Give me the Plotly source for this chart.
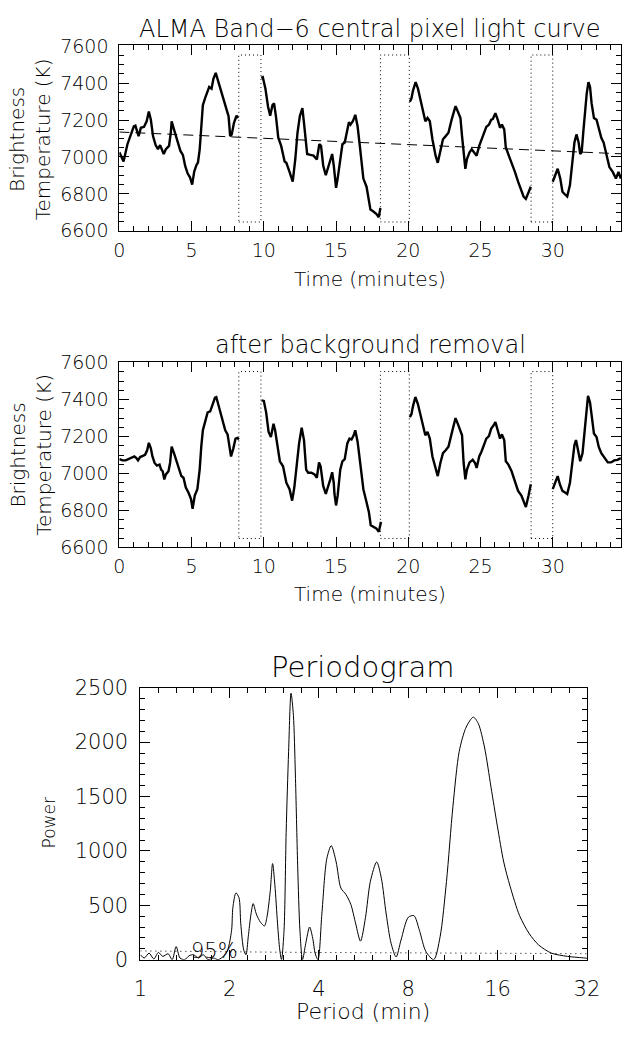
import plotly.graph_objects as go
import math

# ---------------- data ----------------
# Panel 1: raw light curve (minutes, K); None separates observing scans
raw_t = [0.0, 0.29, 0.56, 0.78, 1.0, 1.11, 1.33, 1.49, 1.71, 1.89, 2.04, 2.18, 2.33, 2.51, 2.67, 2.82,
         2.96, 3.07, 3.22, 3.44, 3.56, 3.62, 3.78, 4.0, 4.22, 4.4, 4.56, 4.73, 4.89, 5.04, 5.18, 5.33,
         5.44, 5.56, 5.67, 5.78, 5.93, 6.11, 6.22, 6.38, 6.51, 6.67, 6.82, 7.0, 7.22, 7.4, 7.56, 7.67,
         7.78, 7.93, 8.11, 8.22, None,
         9.82, 9.93, 10.11, 10.29, 10.44, 10.6, 10.71, 10.84, 11.0, 11.2, 11.44, 11.56, 11.78, 12.0,
         12.18, 12.33, 12.49, 12.67, 12.78, 12.89, 13.0, 13.22, 13.44, 13.67, 13.84, 13.96, 14.11,
         14.29, 14.44, 14.62, 14.73, 14.84, 14.93, 15.0, 15.11, 15.29, 15.44, 15.6, 15.78, 15.89, 16.0,
         16.16, 16.33, 16.49, 16.67, 16.89, 17.11, 17.27, 17.38, 17.56, 17.78, 17.96, 18.07, None,
         20.11, 20.22, 20.33, 20.51, 20.67, 20.84, 21.0, 21.18, 21.33, 21.49, 21.67, 21.89, 22.04,
         22.22, 22.4, 22.56, 22.78, 23.0, 23.22, 23.27, 23.43, 23.61, 23.72, 23.83, 23.95, 24.06,
         24.24, 24.39, 24.55, 24.73, 24.91, 25.07, 25.25, 25.4, 25.58, 25.74, 25.85, 26.03, 26.19,
         26.35, 26.48, 26.64, 26.75, 26.93, 27.15, 27.38, 27.6, 27.83, 27.98, 28.14, 28.32, 28.48, None,
         30.0, 30.16, 30.34, 30.52, 30.67, 30.83, 31.0, 31.19, 31.35, 31.5, 31.64, 31.79, 31.9, 32.0,
         32.13, 32.24, 32.35, 32.47, 32.58, 32.69, 32.85, 33.03, 33.21, 33.36, 33.52, 33.7, 33.92,
         34.15, 34.37, 34.55, 34.71]
raw_v = [7025, 6975, 7069, 7113, 7166, 7170, 7113, 7158, 7163, 7193, 7246, 7202, 7113, 7064, 7042, 7064,
         7042, 7016, 7042, 7060, 7131, 7193, 7149, 7096, 7034, 7010, 6950, 6910, 6890, 6850, 6920, 6955,
         6970, 7040, 7150, 7280, 7317, 7361, 7379, 7370, 7423, 7455, 7414, 7361, 7299, 7255, 7220, 7113,
         7122, 7184, 7223, 7211, None,
         7428, 7432, 7370, 7273, 7223, 7281, 7290, 7220, 7104, 7060, 6975, 6968, 6919, 6866,
         6989, 7131, 7220, 7264, 7184, 7096, 7016, 7011, 7007, 6986, 7069, 7060, 6954,
         6901, 6936, 6989, 7016, 6954, 6900, 6833, 6883, 6989, 7069, 7078, 7158, 7188, 7175,
         7193, 7228, 7166, 7042, 6883, 6839, 6777, 6715, 6706, 6692, 6674, 6724, None,
         7299, 7317, 7361, 7405, 7370, 7308, 7255, 7193, 7211, 7193, 7096, 7007, 6968,
         7025, 7096, 7110, 7131, 7202, 7273, 7275, 7246, 7211, 7113, 7016, 6936, 6989,
         7025, 7042, 7025, 7007, 7060, 7096, 7140, 7163, 7175, 7202, 7205, 7237, 7202,
         7158, 7175, 7149, 7051, 7016, 6972, 6919, 6866, 6821, 6786, 6773, 6812, 6839, None,
         6866, 6901, 6936, 6883, 6812, 6798, 6786, 6848, 6954, 7078, 7122, 7078, 7016, 7025,
         7149, 7255, 7343, 7405, 7379, 7290, 7211, 7202, 7149, 7104, 7078, 7016, 6945,
         6919, 6883, 6919, 6883]

# linear background fit
trend_t = [0.0, 34.73]
trend_v = [7135, 7017]

# Panel 2: after background removal
det_t = [0.0, 0.22, 0.44, 0.67, 0.89, 1.04, 1.18, 1.29, 1.44, 1.62, 1.78, 1.93, 2.04, 2.18, 2.29, 2.44,
         2.6, 2.78, 2.89, 3.0, 3.11, 3.22, 3.4, 3.51, 3.62, 3.78, 3.93, 4.11, 4.29, 4.44, 4.6, 4.78,
         4.96, 5.07, 5.22, 5.4, 5.56, 5.67, 5.78, 5.93, 6.11, 6.29, 6.44, 6.62, 6.71, 6.89, 7.11, 7.33,
         7.49, 7.62, 7.73, 7.89, 8.04, 8.18, 8.27, None,
         9.84, 10.0, 10.16, 10.33, 10.49, 10.67, 10.78, 10.96, 11.11, 11.33, 11.44, 11.56, 11.78,
         11.96, 12.11, 12.27, 12.44, 12.62, 12.78, 12.93, 13.07, 13.29, 13.51, 13.67, 13.82, 13.93,
         14.11, 14.29, 14.44, 14.6, 14.73, 14.84, 14.89, 15.0, 15.11, 15.29, 15.44, 15.6, 15.78, 15.93,
         16.07, 16.22, 16.33, 16.49, 16.67, 16.89, 17.11, 17.27, 17.4, 17.6, 17.78, 17.96, 18.11, None,
         20.11, 20.22, 20.33, 20.49, 20.67, 20.84, 21.0, 21.18, 21.33, 21.49, 21.67, 21.89, 22.04,
         22.22, 22.4, 22.6, 22.78, 23.0, 23.22, 23.27, 23.43, 23.57, 23.72, 23.83, 23.95, 24.06,
         24.24, 24.46, 24.62, 24.73, 24.91, 25.07, 25.25, 25.4, 25.58, 25.74, 25.9, 26.03, 26.19,
         26.35, 26.48, 26.64, 26.75, 26.93, 27.15, 27.38, 27.6, 27.83, 27.98, 28.14, 28.32, 28.48, None,
         30.0, 30.16, 30.34, 30.49, 30.67, 30.85, 31.0, 31.19, 31.35, 31.5, 31.61, 31.75, 31.9, 32.06,
         32.2, 32.31, 32.44, 32.58, 32.69, 32.85, 33.03, 33.18, 33.36, 33.59, 33.81, 34.03, 34.26,
         34.48, 34.71]
det_v = [7078, 7071, 7071, 7078, 7089, 7092, 7083, 7071, 7089, 7096, 7101, 7127, 7166, 7136, 7092, 7057,
         7043, 7048, 7021, 7012, 6968, 6995, 7012, 7057, 7145, 7110, 7074, 7030, 6986, 6977, 6924, 6897,
         6862, 6809, 6880, 6915, 7021, 7145, 7234, 7278, 7331, 7336, 7366, 7411, 7414, 7358, 7296, 7234,
         7212, 7145, 7092, 7136, 7189, 7193, 7184, None,
         7396, 7393, 7331, 7225, 7198, 7269, 7234, 7136, 7066, 7039, 6986, 6950, 6915,
         6853, 6924, 7057, 7163, 7248, 7181, 7021, 7004, 7004, 6995, 6977, 7060, 7039,
         6933, 6889, 6924, 6968, 7007, 6950, 6889, 6827, 6880, 7021, 7066, 7078, 7163, 7189,
         7184, 7207, 7234, 7172, 7057, 6915, 6844, 6791, 6720, 6712, 6703, 6685, 6738, None,
         7304, 7322, 7366, 7414, 7375, 7313, 7260, 7207, 7225, 7189, 7092, 7021, 6986,
         7057, 7110, 7127, 7145, 7216, 7296, 7300, 7269, 7243, 7207, 7057, 6968, 7021,
         7060, 7074, 7057, 7030, 7092, 7119, 7163, 7189, 7202, 7243, 7260, 7278, 7234,
         7189, 7212, 7181, 7066, 7048, 7012, 6959, 6906, 6880, 6844, 6818, 6880, 6942, None,
         6915, 6950, 6986, 6942, 6906, 6897, 6889, 6950, 7057, 7154, 7181, 7127, 7066, 7110,
         7234, 7340, 7420, 7384, 7304, 7216, 7198, 7145, 7110, 7083, 7060, 7060, 7071,
         7074, 7083]

# data gaps (calibration breaks) drawn as dotted boxes
gap_start = [8.27, 18.07, 28.5]
gap_end = [9.8, 20.07, 30.0]
gap_low = 6648
gap_high = 7552

# Panel 3: periodogram
period = [1.0, 1.03, 1.07, 1.11, 1.15, 1.19, 1.24, 1.28, 1.32, 1.36, 1.41, 1.46, 1.51, 1.57, 1.63,
          1.69, 1.76, 1.83, 1.92, 1.97, 2.03, 2.05, 2.10, 2.15, 2.18, 2.23, 2.27, 2.31, 2.36, 2.40,
          2.46, 2.54, 2.62, 2.67, 2.74, 2.79, 2.84, 2.90, 2.95, 2.99, 3.05, 3.10, 3.16, 3.22, 3.28,
          3.33, 3.39, 3.45, 3.52, 3.61, 3.72, 3.82, 3.88, 3.97, 4.09, 4.25, 4.40, 4.57, 4.74, 4.93,
          5.12, 5.32, 5.52, 5.74, 5.96, 6.26, 6.49, 6.74, 7.0, 7.28, 7.56, 8.0, 8.36, 8.72, 9.17,
          9.75, 10.24, 10.76, 11.31, 11.88, 12.48, 13.0, 13.27, 13.78, 14.47, 15.2, 15.97, 16.78,
          17.63, 18.98, 20.44, 22.0, 24.3, 27.5, 31.5, 32.0]
power = [45, 15, 60, 6, 66, 30, 54, 0, 120, 15, 0, 36, 45, 15, 45,
         0, 15, 0, 40, 90, 270, 479, 614, 569, 329, 90, 45, 210, 419, 515,
         419, 344, 310, 389, 629, 883, 689, 329, 90, 0, 270, 1168, 1916, 2450, 2245,
         1707, 868, 270, 0, 150, 300, 180, 60, 0, 419, 928, 1048, 898, 659, 599,
         509, 329, 170, 389, 719, 898, 749, 419, 150, 25, 180, 389, 404, 270, 75,
         0, 210, 719, 1407, 1916, 2126, 2210, 2230, 2170, 1946, 1587, 1228, 898,
         674, 404, 240, 135, 60, 30, 15, 12]
sig_period = [1.0, 1.5, 2.0, 3.0, 4.0, 6.0, 8.0, 12.0, 16.0, 24.0, 32.0]
sig_level = [80, 78, 72, 68, 66, 65, 64, 62, 60, 58, 55]

# ---------------- figure ----------------
W, H = 637, 1041
FONT = "DejaVu Sans"


def px_x(p):
    return p / W


def px_y(p):
    return 1 - p / H


def fnt(size):
    return dict(family=FONT, size=size, color="black", weight=300)


fig = go.Figure()

fig.add_trace(go.Scatter(x=raw_t, y=raw_v, mode="lines", line=dict(color="black", width=2.4),
                         connectgaps=False, xaxis="x", yaxis="y", showlegend=False))
fig.add_trace(go.Scatter(x=trend_t, y=trend_v, mode="lines",
                         line=dict(color="black", width=1, dash="10px,6px"),
                         xaxis="x", yaxis="y", showlegend=False))
fig.add_trace(go.Scatter(x=det_t, y=det_v, mode="lines", line=dict(color="black", width=2.4),
                         connectgaps=False, xaxis="x2", yaxis="y2", showlegend=False))
fig.add_trace(go.Scatter(x=period, y=power, mode="lines",
                         line=dict(color="black", width=1, shape="spline", smoothing=0.8),
                         xaxis="x3", yaxis="y3", showlegend=False))
fig.add_trace(go.Scatter(x=sig_period, y=sig_level, mode="lines",
                         line=dict(color="black", width=1, dash="1px,4px"),
                         xaxis="x3", yaxis="y3", showlegend=False))

shapes = []
for ax in ["", "2"]:
    for a, b in zip(gap_start, gap_end):
        shapes.append(dict(type="rect", xref="x" + ax, yref="y" + ax, x0=a, x1=b,
                           y0=gap_low, y1=gap_high,
                           line=dict(color="black", width=1, dash="1px,3px")))

common = dict(showline=True, linecolor="black", linewidth=1, mirror="allticks", ticks="inside",
              tickcolor="black", ticklen=10, tickwidth=1, showgrid=False, zeroline=False)

x_top = dict(domain=[px_x(116), px_x(634)], range=[0, 34.73], tickvals=[0, 5, 10, 15, 20, 25, 30],
             minor=dict(dtick=1, ticklen=5, ticks="inside", tickcolor="black", showgrid=False),
             ticklabelstandoff=2, tickfont=fnt(19), **common)
y_top = dict(range=[6600, 7605], tickvals=[6600, 6800, 7000, 7200, 7400, 7600],
             minor=dict(dtick=50, ticklen=5, ticks="inside", tickcolor="black", showgrid=False),
             ticklabelstandoff=6, tickfont=fnt(19), **common)

minor_log = [2 ** (k / 5) for k in range(0, 26)]

fig.update_layout(
    width=W, height=H, margin=dict(l=0, r=0, t=0, b=0),
    paper_bgcolor="white", plot_bgcolor="white",
    xaxis=dict(anchor="y", **x_top),
    yaxis=dict(domain=[px_y(224), px_y(34)], anchor="x", **y_top),
    xaxis2=dict(anchor="y2", **x_top),
    yaxis2=dict(domain=[px_y(548), px_y(358)], anchor="x2", **y_top),
    xaxis3=dict(domain=[px_x(137.7), px_x(598.7)], anchor="y3", type="log",
                range=[0, math.log10(32)], tickvals=[1, 2, 4, 8, 16, 32],
                ticktext=["1", "2", "4", "8", "16", "32"],
                minor=dict(tickvals=minor_log, ticklen=5, ticks="inside", tickcolor="black",
                           showgrid=False),
                ticklabelstandoff=10, tickfont=fnt(21), **common),
    yaxis3=dict(domain=[px_y(970), px_y(691.7)], anchor="x3", range=[0, 2500],
                tickvals=[0, 500, 1000, 1500, 2000, 2500],
                minor=dict(dtick=100, ticklen=5, ticks="inside", tickcolor="black", showgrid=False),
                ticklabelstandoff=7, tickfont=fnt(21), **common),
    shapes=shapes,
)

ann = [
    dict(text="ALMA Band\u22126 central pixel light curve", x=px_x(375), y=px_y(17), font=fnt(24)),
    dict(text="Time (minutes)", x=px_x(375), y=px_y(273), font=fnt(20)),
    dict(text="Brightness<br>Temperature (K)", x=px_x(24), y=px_y(130), textangle=-90, font=fnt(20)),
    dict(text="after background removal", x=px_x(375), y=px_y(341), font=fnt(24)),
    dict(text="Time (minutes)", x=px_x(375), y=px_y(596), font=fnt(20)),
    dict(text="Brightness<br>Temperature (K)", x=px_x(24), y=px_y(453), textangle=-90, font=fnt(20)),
    dict(text="Periodogram", x=px_x(368), y=px_y(670), font=fnt(29)),
    dict(text="Period (min)", x=px_x(368), y=px_y(1023), font=fnt(22)),
    dict(text="Power", x=px_x(43), y=px_y(830), textangle=-90, font=fnt(17)),
]
for a in ann:
    fig.add_annotation(xref="paper", yref="paper", showarrow=False, xanchor="center",
                       yanchor="middle", **a)

fig.add_annotation(text="95%", x=math.log10(1.775), y=81, xref="x3", yref="y3", showarrow=False,
                   xanchor="center", yanchor="middle", font=fnt(21))

fig.write_html("out.html")
